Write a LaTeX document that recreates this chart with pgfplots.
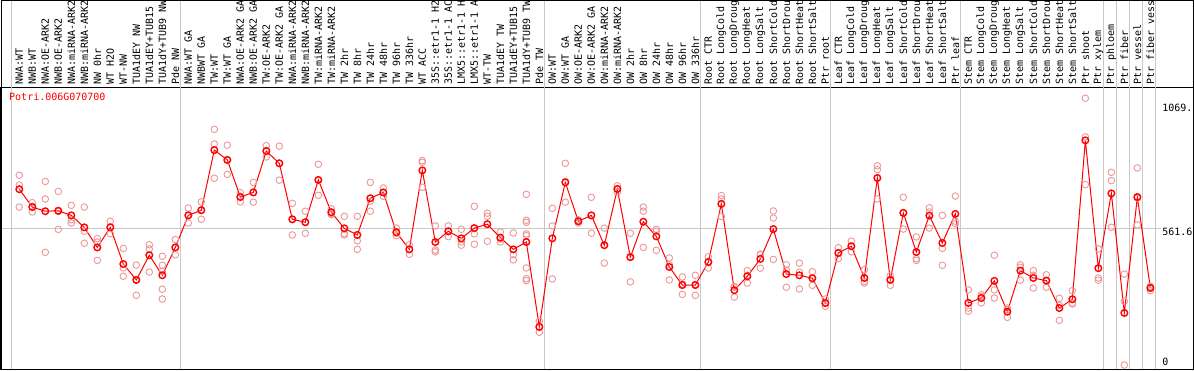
\documentclass[border=0pt]{standalone}
\usepackage{fontspec}
\setmainfont{DejaVu Sans Mono}
\usepackage{pgfplots}
\pgfplotsset{compat=1.18}
\usepackage{pgfplotstable}
\definecolor{repc}{RGB}{236,150,150}
\definecolor{sepc}{RGB}{200,200,200}

\pgfplotstableread{
x y
1 721
2 648
3 631
4 633
5 614
6 565
7 483
8 565
9 415
10 350
11 451
12 369
13 483
14 614
15 635
16 881
17 841
18 689
19 708
20 877
21 827
22 598
23 586
24 759
25 627
26 561
27 534
28 684
29 708
30 545
31 475
32 798
33 505
34 549
35 520
36 562
37 578
38 523
39 475
40 505
41 158
42 520
43 749
44 590
45 614
46 492
47 722
48 443
49 588
50 528
51 403
52 329
53 329
54 423
55 661
56 308
57 365
58 436
59 558
60 374
61 369
62 357
63 256
64 460
65 488
66 358
67 767
68 350
69 624
70 464
71 613
72 501
73 620
74 256
75 276
76 346
77 220
78 388
79 358
80 347
81 235
82 271
83 921
84 398
85 704
86 215
87 689
88 317
}\means

\pgfplotstableread{
x y
1 778
1 738
1 648
2 666
2 651
2 628
3 753
3 681
3 463
4 712
4 630
4 557
5 655
5 596
5 583
6 648
6 549
6 500
7 519
7 505
7 483
7 430
8 590
8 567
8 539
9 479
9 399
9 365
10 411
10 351
10 287
11 494
11 477
11 382
12 447
12 410
12 385
12 312
12 272
13 515
13 483
13 453
14 644
14 616
14 583
15 669
15 637
15 598
16 966
16 906
16 766
17 901
17 839
17 782
18 707
18 692
18 669
19 749
19 708
19 668
20 899
20 880
20 853
21 897
21 827
21 758
22 663
22 597
22 534
23 631
23 586
23 541
24 823
24 757
24 696
25 641
25 622
25 617
26 610
26 539
26 534
27 610
27 510
27 475
28 749
28 672
28 631
29 726
29 707
29 692
30 562
30 541
30 531
31 494
31 477
31 455
32 838
32 831
32 729
33 571
33 472
33 465
34 571
34 549
34 527
35 557
35 505
35 492
36 651
36 539
36 496
37 623
37 610
37 508
38 546
38 517
38 505
39 542
39 453
39 432
40 700
40 594
40 586
40 538
40 531
40 399
40 355
40 347
41 181
41 156
41 136
42 643
42 571
42 354
43 827
43 753
43 668
44 596
44 590
44 583
45 688
45 614
45 541
46 562
46 493
46 419
47 735
47 722
47 708
48 541
48 445
48 342
49 648
49 631
49 483
50 557
50 549
50 471
51 440
51 412
51 350
52 362
52 334
52 291
53 369
53 332
53 287
54 445
54 426
54 399
55 695
55 681
55 610
56 323
56 320
56 280
57 388
57 369
57 337
58 456
58 453
58 398
59 632
59 603
59 434
60 412
60 391
60 320
61 419
61 382
61 313
62 384
62 358
62 328
63 272
63 253
63 242
64 482
64 462
64 437
65 509
65 488
65 465
66 392
66 344
66 337
67 817
67 801
67 681
68 367
68 354
68 328
69 688
69 625
69 558
70 526
70 437
70 430
71 645
71 628
71 562
72 614
72 479
72 410
73 693
73 590
73 580
74 309
74 235
74 222
75 290
75 283
75 256
76 451
76 309
76 276
77 235
77 228
77 197
78 412
78 402
78 349
79 388
79 369
79 317
80 371
80 349
80 320
81 275
81 246
81 185
82 306
82 255
82 252
83 1093
83 935
83 740
84 477
84 358
84 349
85 790
85 756
85 565
86 374
86 263
86 2
87 808
87 685
87 575
88 324
88 321
88 306
}\reps

\begin{document}
\begin{tikzpicture}[x=1pt,y=1pt,font=\fontsize{10}{12}\selectfont]
\useasboundingbox (0,0) rectangle (1194,370);
\clip (0,0) rectangle (1194,370);
\begin{axis}[
  at={(1pt,1pt)}, anchor=south west,
  width=1192pt, height=281pt, scale only axis,
  xmin=-0.4077, xmax=91.285,
  ymin=-14.3, ymax=1135,
  axis line style={line width=1pt},
  xtick={1,...,88},
  xticklabels={NWA:WT,NWB:WT,NWA:OE-ARK2,NWB:OE-ARK2,NWA:miRNA-ARK2,NWB:miRNA-ARK2,NW 0hr,WT H2O,WT-NW,TUA1dEY NW,TUA1dEY+TUB15,TUA1dY+TUB9 NW,Pde NW,
    NWA:WT GA,NWBWT GA,TW:WT,TW:WT GA,NWA:OE-ARK2 GA,NWB:OE-ARK2 GA,TW:OE-ARK2,TW:OE-ARK2 GA,NWA:miRNA-ARK2,NWB:miRNA-ARK2,TW:miRNA-ARK2,TW:miRNA-ARK2,TW 2hr,TW 8hr,TW 24hr,TW 48hr,TW 96hr,TW 336hr,WT ACC,35S::etr1-1 H2,35S::etr1-1 AC,LMX5::etr1-1 H,LMX5::etr1-1 A,WT-TW,TUA1dEY TW,TUA1dEY+TUB15,TUA1dY+TUB9 TW,Pde TW,
    OW:WT,OW:WT GA,OW:OE-ARK2,OW:OE-ARK2 GA,OW:miRNA-ARK2,OW:miRNA-ARK2,OW 2hr,OW 8hr,OW 24hr,OW 48hr,OW 96hr,OW 336hr,
    Root CTR,Root LongCold,Root LongDroug,Root LongHeat,Root LongSalt,Root ShortCold,Root ShortDrou,Root ShortHeat,Root ShortSalt,Ptr root,
    Leaf CTR,Leaf LongCold,Leaf LongDroug,Leaf LongHeat,Leaf LongSalt,Leaf ShortCold,Leaf ShortDrou,Leaf ShortHeat,Leaf ShortSalt,Ptr leaf,
    Stem CTR,Stem LongCold,Stem LongDroug,Stem LongHeat,Stem LongSalt,Stem ShortCold,Stem ShortDrou,Stem ShortHeat,Stem ShortSalt,Ptr shoot,Ptr xylem,
    Ptr phloem,Ptr fiber,Ptr vessel,Ptr fiber vess},
  xticklabel pos=upper,
  xticklabel style={rotate=90, anchor=west, inner sep=0pt},
  xticklabel shift=3pt,
  ytick={561.6,1069},
  yticklabels={561.6,1069.},
  yticklabel pos=right,
  yticklabel style={anchor=north west, inner sep=0pt, xshift=-31pt},
  extra y ticks={0}, extra y tick labels={0},
  extra y tick style={yticklabel style={anchor=base west}},
  major tick length=0pt,
  clip=false,
]
\draw[sepc, line width=1pt] (axis cs:-0.41,561.6) -- (axis cs:88.82,561.6);
\pgfplotsinvokeforeach{0.385,13.385,41.385,53.385,63.385,73.385,84.385,85.385,86.385,87.385,88.385}{
  \draw[sepc, line width=1pt] (axis cs:#1,-14.3) -- (axis cs:#1,1500);
}
\addplot[only marks, mark=o, mark size=3.3pt, repc, line width=0.9pt] table {\reps};
\addplot[red, line width=1pt, mark=o, mark size=3.3pt, mark options={line width=1.4pt}] table {\means};
\end{axis}
\node[anchor=north west, inner sep=0pt, text=red] at (9,277.5) {Potri.006G070700};
\draw[line width=1pt] (1,1) rectangle (1193,369.5);
\end{tikzpicture}
\end{document}
